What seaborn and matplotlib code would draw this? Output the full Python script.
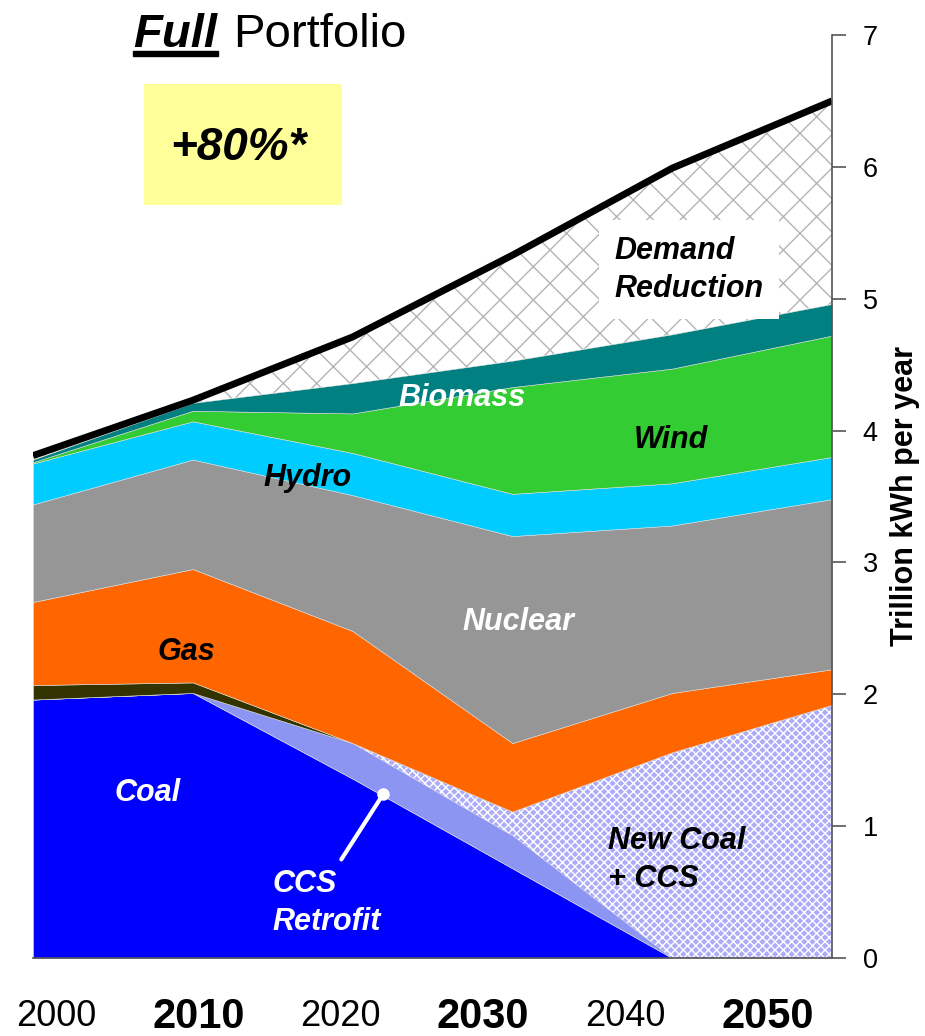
import numpy as np
import matplotlib
matplotlib.use("Agg")
import matplotlib.pyplot as plt
import seaborn as sns
from matplotlib.patches import Rectangle

# -------------------------
# Data (trillion kWh per year, stacked layers bottom -> top)
# -------------------------
years = [2000, 2010, 2020, 2030, 2040, 2050]
year_labels = ["2000", "2010", "2020", "2030", "2040", "2050"]

coal = [1.96, 2.01, 1.36, 0.68, 0.00, 0.00]
ccs_retrofit = [0.00, 0.00, 0.27, 0.25, 0.00, 0.00]
new_coal_ccs = [0.00, 0.00, 0.00, 0.18, 1.56, 1.92]
oil = [0.11, 0.08, 0.00, 0.00, 0.00, 0.00]
gas = [0.63, 0.86, 0.85, 0.52, 0.45, 0.27]
nuclear = [0.74, 0.83, 1.03, 1.57, 1.27, 1.29]
hydro = [0.31, 0.29, 0.32, 0.32, 0.32, 0.32]
wind = [0.01, 0.08, 0.30, 0.81, 0.87, 0.92]
biomass = [0.02, 0.06, 0.23, 0.20, 0.26, 0.24]
demand_reduction = [0.03, 0.02, 0.35, 0.80, 1.26, 1.54]

layers = [coal, ccs_retrofit, new_coal_ccs, oil, gas, nuclear, hydro, wind, biomass, demand_reduction]

# -------------------------
# Style
# -------------------------
sns.set_style("white")
plt.rcParams["font.family"] = ["Liberation Sans", "DejaVu Sans"]
plt.rcParams["hatch.linewidth"] = 1.0
plt.rcParams["text.color"] = "black"
plt.rcParams["axes.labelcolor"] = "black"
plt.rcParams["xtick.color"] = "black"
plt.rcParams["ytick.color"] = "black"

# face, hatch colour, hatch pattern
styles = [
    ("#0000FF", None, None),
    ("#8C96F2", None, None),
    ("#ACACF8", "white", "xxxx"),
    ("#333300", None, None),
    ("#FF6600", None, None),
    ("#969696", None, None),
    ("#00CCFF", None, None),
    ("#33CC33", None, None),
    ("#008080", None, None),
    ("white", "#B4B4B4", "x"),
]

fig = plt.figure(figsize=(9.25, 10.36), dpi=100)
ax = fig.add_axes([33 / 925, 78 / 1036, 799 / 925, 923 / 1036])

x = np.array(years, dtype=float)
bottom = np.zeros(len(years))
for vals, (face, hcol, hatch) in zip(layers, styles):
    top = bottom + np.array(vals)
    if hatch:
        ax.fill_between(x, bottom, top, facecolor=face, edgecolor=hcol,
                        hatch=hatch, linewidth=0)
    else:
        ax.fill_between(x, bottom, top, facecolor=face, edgecolor="#DDDDDD",
                        linewidth=0.4)
    bottom = top

# total demand line
sns.lineplot(x=years, y=bottom, color="black", linewidth=5, ax=ax,
             solid_capstyle="butt")

ax.set_xlim(2000, 2050)
ax.set_ylim(0, 7)

# axes
ax.yaxis.tick_right()
ax.yaxis.set_label_position("right")
ax.set_yticks(range(0, 8))
ax.tick_params(axis="y", direction="out", length=10, width=1.2,
               color="#555555", labelcolor="black", labelsize=19.5, pad=12)
ax.set_xticks(years)
ax.set_xticklabels([])
ax.tick_params(axis="x", direction="out", length=8, width=1.2, color="#555555")
for s in ["top", "left"]:
    ax.spines[s].set_visible(False)
for s in ["right", "bottom"]:
    ax.spines[s].set_color("#555555")
    ax.spines[s].set_linewidth(1.2)
ax.set_ylabel("Trillion kWh per year", fontsize=22, fontweight="bold",
              labelpad=9, color="black")

# x labels, alternating weight
for i, (lab, px) in enumerate(zip(year_labels, np.linspace(56, 768, 6))):
    bold = i % 2 == 1
    fig.text(px / 925, 1 - 1017 / 1036, lab, ha="center", va="center",
             fontsize=30 if bold else 26,
             fontweight="bold" if bold else "normal", color="black")

# area labels
lab_kw = dict(fontsize=22, fontweight="bold", fontstyle="italic")
ax.text(2036.4, 5.22, "Demand\nReduction", ha="left", va="center",
        linespacing=1.35, color="black",
        bbox=dict(facecolor="white", edgecolor="none", pad=11), **lab_kw)
ax.text(2026.85, 4.25, "Biomass", ha="center", va="center", color="white", **lab_kw)
ax.text(2039.9, 3.93, "Wind", ha="center", va="center", color="black", **lab_kw)
ax.text(2017.2, 3.64, "Hydro", ha="center", va="center", color="black", **lab_kw)
ax.text(2030.35, 2.55, "Nuclear", ha="center", va="center", color="white", **lab_kw)
ax.text(2009.6, 2.32, "Gas", ha="center", va="center", color="black", **lab_kw)
ax.text(2007.2, 1.25, "Coal", ha="center", va="center", color="white", **lab_kw)
ax.text(2036.0, 0.74, "New Coal\n+ CCS", ha="left", va="center",
        linespacing=1.35, color="black", **lab_kw)
ax.text(2015.0, 0.42, "CCS\nRetrofit", ha="left", va="center",
        linespacing=1.35, color="white", **lab_kw)

# pointer to CCS retrofit band
ax.annotate("", xy=(2021.9, 1.24), xytext=(2019.2, 0.73),
            arrowprops=dict(arrowstyle="-", color="white", lw=3))
ax.plot([2021.9], [1.24], "o", color="white", markersize=8)

# title
fig.text(133 / 925, 1 - 47 / 1036, "Full", fontsize=34, fontweight="bold",
         fontstyle="italic", ha="left", va="baseline", color="black")
fig.text(233 / 925, 1 - 47 / 1036, "Portfolio", fontsize=34,
         ha="left", va="baseline", color="black")
fig.patches.append(Rectangle((133 / 925, 1 - 56 / 1036), 85 / 925, 5 / 1036,
                             transform=fig.transFigure, color="black"))

# yellow box
fig.patches.append(Rectangle((144 / 925, 1 - 205 / 1036), 198 / 925, 121 / 1036,
                             transform=fig.transFigure, facecolor="#FFFF99",
                             edgecolor="none"))
fig.text(238 / 925, 1 - 148 / 1036, "+80%*", fontsize=33, fontweight="bold",
         fontstyle="italic", ha="center", va="center", color="black")

fig.savefig("out.png", dpi=100)
